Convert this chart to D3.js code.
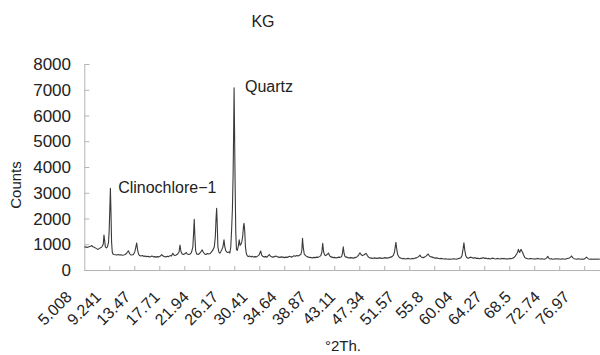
<!DOCTYPE html>
<html>
<head>
<meta charset="utf-8">
<script src="https://cdn.jsdelivr.net/npm/d3@7/dist/d3.min.js"></script>
<style>
  html, body { margin: 0; padding: 0; background: #fff; }
  svg { display: block; font-family: "Liberation Sans", Arial, sans-serif; }
</style>
</head>
<body>
<svg id="chart" width="600" height="355"></svg>
<script>
// ---- data ----
const chartTitle = "KG";
const xAxisTitle = "°2Th.";
const yAxisTitle = "Counts";
const xTickLabels = ["5.008","9.241","13.47","17.71","21.94","26.17","30.41","34.64","38.87","43.11","47.34","51.57","55.8","60.04","64.27","68.5","72.74","76.97"];
const yTickValues = [0,1000,2000,3000,4000,5000,6000,7000,8000];
const annotations = [
  { text: "Clinochlore\u22121", angle: 9.9, count: 2980 },
  { text: "Quartz", angle: 28.23, count: 6900 }
];
// [2θ (degrees), counts]
const scan = [
[5.01,880],[5.2,900],[5.4,870],[5.6,890],[5.8,910],[6.0,930],[6.1,950],[6.25,900],[6.45,880],[6.65,850],[6.85,820],[7.0,800],[7.15,830],[7.35,860],[7.55,900],[7.75,1000],[7.85,1360],[7.95,1150],[8.05,900],[8.2,860],[8.35,900],[8.5,1050],[8.6,1500],[8.7,2400],[8.78,3170],[8.86,2300],[8.95,1100],[9.05,700],[9.15,620],[9.3,600],[9.5,590],[9.7,580],[9.9,600],[10.1,580],[10.3,590],[10.5,570],[10.7,580],[10.9,600],[11.1,640],[11.25,700],[11.4,740],[11.55,640],[11.7,590],[11.9,580],[12.1,600],[12.3,700],[12.45,880],[12.58,1050],[12.7,800],[12.85,620],[13.0,560],[13.2,540],[13.4,560],[13.6,530],[13.8,540],[14.0,520],[14.2,530],[14.4,510],[14.6,520],[14.8,540],[15.0,510],[15.2,520],[15.4,500],[15.6,520],[15.8,510],[16.0,540],[16.2,600],[16.4,540],[16.6,520],[16.8,510],[17.0,530],[17.2,520],[17.4,560],[17.6,540],[17.8,650],[17.95,580],[18.1,560],[18.3,580],[18.5,620],[18.7,700],[18.84,970],[18.98,720],[19.15,620],[19.35,600],[19.55,630],[19.75,680],[19.9,620],[20.1,600],[20.3,620],[20.5,680],[20.7,900],[20.82,1500],[20.9,1970],[20.98,1400],[21.1,750],[21.25,620],[21.45,600],[21.65,640],[21.85,700],[22.05,780],[22.2,700],[22.4,620],[22.6,600],[22.8,640],[23.0,620],[23.2,640],[23.4,700],[23.6,780],[23.8,900],[23.95,1300],[24.05,2000],[24.14,2400],[24.22,1800],[24.32,900],[24.45,700],[24.6,650],[24.75,720],[24.9,800],[25.05,900],[25.2,1170],[25.32,900],[25.45,750],[25.6,700],[25.75,680],[25.9,700],[26.05,660],[26.18,900],[26.3,1550],[26.42,2400],[26.52,3750],[26.6,5500],[26.66,7080],[26.72,5600],[26.8,3500],[26.9,1500],[27.0,800],[27.12,760],[27.25,900],[27.4,1170],[27.52,950],[27.65,1000],[27.78,1100],[27.9,1300],[28.02,1700],[28.1,1810],[28.2,1500],[28.3,900],[28.42,650],[28.55,560],[28.7,520],[28.9,540],[29.1,510],[29.3,530],[29.5,500],[29.7,520],[29.9,510],[30.1,550],[30.3,600],[30.5,740],[30.65,580],[30.8,530],[31.0,510],[31.2,520],[31.4,500],[31.6,560],[31.75,600],[31.9,540],[32.1,510],[32.3,500],[32.5,520],[32.7,540],[32.9,510],[33.1,500],[33.3,490],[33.5,510],[33.7,500],[33.9,480],[34.1,500],[34.3,490],[34.5,510],[34.7,530],[34.9,500],[35.1,520],[35.3,550],[35.5,530],[35.7,560],[35.9,540],[36.1,570],[36.3,600],[36.45,750],[36.55,1230],[36.65,900],[36.8,620],[37.0,560],[37.2,520],[37.4,500],[37.6,490],[37.8,480],[38.0,470],[38.2,490],[38.4,480],[38.6,500],[38.8,490],[39.0,520],[39.2,560],[39.35,700],[39.47,1035],[39.6,700],[39.75,580],[39.9,560],[40.1,600],[40.3,660],[40.45,560],[40.6,520],[40.8,500],[41.0,480],[41.2,490],[41.4,470],[41.6,480],[41.8,500],[42.0,490],[42.2,520],[42.32,650],[42.44,905],[42.56,640],[42.7,520],[42.9,500],[43.1,480],[43.3,470],[43.5,480],[43.7,470],[43.9,460],[44.1,480],[44.3,490],[44.5,530],[44.7,600],[44.85,670],[45.0,600],[45.2,560],[45.4,580],[45.6,620],[45.75,645],[45.9,570],[46.1,500],[46.3,470],[46.5,460],[46.7,450],[46.9,470],[47.1,460],[47.3,450],[47.5,460],[47.7,470],[47.9,460],[48.1,450],[48.3,470],[48.5,480],[48.7,460],[48.9,470],[49.1,480],[49.3,500],[49.5,520],[49.7,580],[49.85,700],[49.95,900],[50.05,1075],[50.15,850],[50.3,600],[50.45,520],[50.6,480],[50.8,460],[51.0,440],[51.2,450],[51.4,430],[51.6,440],[51.8,450],[52.0,440],[52.2,430],[52.4,450],[52.6,440],[52.8,460],[53.0,470],[53.2,500],[53.4,540],[53.52,580],[53.65,520],[53.8,490],[54.0,480],[54.2,500],[54.4,540],[54.55,580],[54.72,620],[54.85,560],[55.0,520],[55.2,510],[55.4,490],[55.6,470],[55.8,460],[56.0,470],[56.2,450],[56.4,440],[56.6,450],[56.8,440],[57.0,430],[57.2,440],[57.4,430],[57.6,420],[57.8,430],[58.0,420],[58.2,430],[58.4,440],[58.6,430],[58.8,420],[59.0,440],[59.2,450],[59.45,480],[59.6,550],[59.75,800],[59.88,1060],[60.0,780],[60.15,550],[60.3,480],[60.5,460],[60.7,480],[60.9,500],[61.1,470],[61.3,460],[61.5,480],[61.7,450],[61.9,460],[62.1,440],[62.3,450],[62.5,460],[62.7,480],[62.9,450],[63.1,460],[63.3,440],[63.5,450],[63.7,430],[63.9,450],[64.1,460],[64.3,440],[64.5,430],[64.7,450],[64.9,440],[65.1,430],[65.3,450],[65.5,440],[65.7,450],[65.9,430],[66.1,440],[66.3,430],[66.5,450],[66.7,440],[66.9,460],[67.1,480],[67.3,540],[67.5,620],[67.65,700],[67.75,800],[67.85,720],[67.95,680],[68.05,760],[68.15,800],[68.25,740],[68.35,700],[68.5,580],[68.7,480],[68.9,450],[69.1,440],[69.3,430],[69.5,450],[69.7,440],[69.9,430],[70.1,440],[70.3,430],[70.5,450],[70.7,440],[70.9,430],[71.1,440],[71.3,430],[71.5,420],[71.7,440],[71.85,470],[72.0,530],[72.15,460],[72.3,430],[72.5,440],[72.7,420],[72.9,430],[73.1,440],[73.3,430],[73.5,440],[73.7,430],[73.9,420],[74.1,440],[74.3,430],[74.5,420],[74.7,440],[74.9,450],[75.1,470],[75.3,500],[75.44,545],[75.6,480],[75.8,440],[76.0,430],[76.2,420],[76.4,440],[76.6,430],[76.8,420],[77.0,430],[77.2,420],[77.4,450],[77.6,500],[77.75,460],[77.9,430],[78.1,420],[78.3,430],[78.5,420],[78.7,430],[78.9,420],[79.1,430],[79.3,420],[79.55,430]
];
const xTickStepDeg = 3.613; // interval between axis tick marks (degrees)

// ---- layout ----
const svg = d3.select("#chart");
const plot = { left: 84.3, right: 600, top: 64, bottom: 270 };
const x = d3.scaleLinear().domain([5.008, 79.55]).range([plot.left, plot.right]);
const y = d3.scaleLinear().domain([0, 8000]).range([plot.bottom, plot.top]);
const axisColor = "#b4b4b4";
const textColor = "#222";

// title
svg.append("text").attr("x", 263).attr("y", 27).attr("text-anchor", "middle")
  .attr("font-size", 16).attr("fill", textColor).text(chartTitle);

// y axis
const yAxis = d3.axisRight(y).tickValues(yTickValues).tickSize(5).tickFormat("");
const gy = svg.append("g").attr("transform", `translate(${plot.left},0)`).call(yAxis);
gy.select(".domain").attr("stroke", axisColor);
gy.selectAll(".tick line").attr("stroke", axisColor);
svg.append("g").selectAll("text").data(yTickValues).join("text")
  .attr("x", 71).attr("y", d => y(d)).attr("dy", "0.36em")
  .attr("text-anchor", "end").attr("font-size", 17).attr("fill", textColor)
  .text(d => d);

// x axis
const xTicks = d3.range(5.008 + xTickStepDeg, 79.55, xTickStepDeg);
const xAxis = d3.axisTop(x).tickValues(xTicks).tickSize(4).tickFormat("").tickSizeOuter(0);
const gx = svg.append("g").attr("transform", `translate(0,${plot.bottom})`).call(xAxis);
gx.select(".domain").attr("stroke", axisColor);
gx.selectAll(".tick line").attr("stroke", axisColor);
svg.append("g").selectAll("text").data(xTickLabels).join("text")
  .attr("transform", d => `translate(${x(+d) - 11.5},298) rotate(-45)`)
  .attr("text-anchor", "end").attr("font-size", 16).attr("fill", textColor)
  .text(d => d);

// axis titles
svg.append("text").attr("x", 343).attr("y", 351).attr("text-anchor", "middle")
  .attr("font-size", 15).attr("fill", textColor).text(xAxisTitle);
svg.append("text").attr("transform", "translate(21,185) rotate(-90)")
  .attr("text-anchor", "middle").attr("font-size", 15).attr("fill", textColor).text(yAxisTitle);

// pattern line
const line = d3.line().x(d => x(d[0])).y(d => y(d[1]));
svg.append("path").datum(scan).attr("d", line)
  .attr("fill", "none").attr("stroke", "#3a3a3a").attr("stroke-width", 1.1)
  .attr("stroke-linejoin", "round");

// annotations
svg.append("g").selectAll("text").data(annotations).join("text")
  .attr("x", d => x(d.angle)).attr("y", d => y(d.count))
  .attr("font-size", 16).attr("fill", textColor).text(d => d.text);
</script>
</body>
</html>
